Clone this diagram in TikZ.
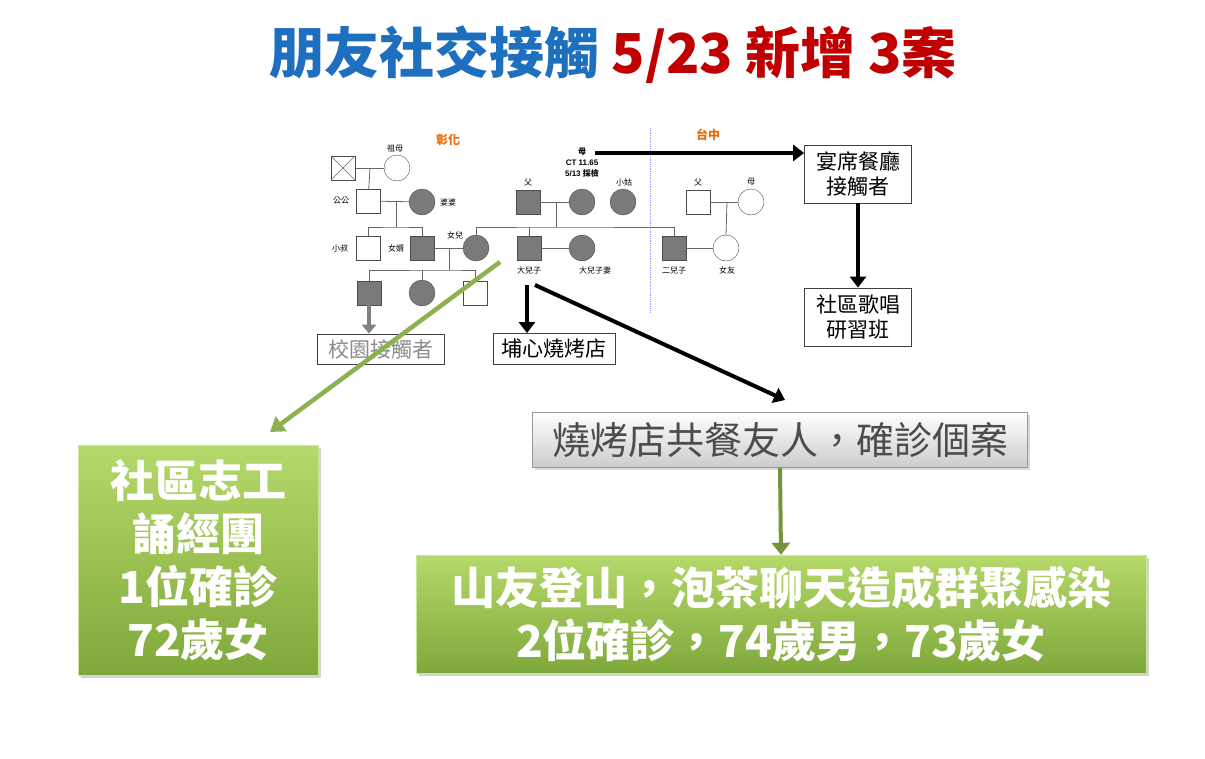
\documentclass[tikz,border=0pt]{standalone}
\usepackage{fontspec}
\setmainfont{Liberation Sans}
\newfontfamily\cjk{Noto Sans CJK TC}
\usetikzlibrary{arrows.meta,shadows}
\definecolor{tblue}{HTML}{1F6FBF}
\definecolor{tred}{HTML}{C00000}
\definecolor{orng}{HTML}{E46C0A}
\definecolor{pgray}{HTML}{7A7A7A}
\definecolor{gtop}{HTML}{B5D96A}
\definecolor{gbot}{HTML}{7FA83A}
\definecolor{garr}{HTML}{8DB050}
\definecolor{oarr}{HTML}{77933C}
\tikzset{
 x=1pt,y=-1pt,
 every node/.style={font=\cjk},
 mw/.style={draw=black!70,fill=white,minimum size=24pt,inner sep=0pt},
 mf/.style={mw,fill=pgray},
 fw/.style={circle,draw=black!70,fill=white,minimum size=26pt,inner sep=0pt},
 ff/.style={fw,fill=pgray},
 lbl/.style={font=\cjk\fontsize{8}{9}\selectfont,inner sep=0pt},
 ln/.style={draw=black!60,line width=0.8pt},
 bx/.style={draw=black!75,line width=0.8pt,fill=white,font=\cjk\fontsize{21}{25}\selectfont,align=center,inner sep=2pt},
 arr/.style={line width=4pt,-{Triangle[length=11pt,width=16pt]}},
 gbox/.style={top color=gtop,bottom color=gbot,draw=gtop!70!white,drop shadow={opacity=0.35},text=white,font=\cjk\bfseries\fontsize{44}{53}\selectfont,align=center}
}
\begin{document}
\begin{tikzpicture}
\useasboundingbox (0,0) rectangle (1205,758);
% title
\node (title) at (613,55) {\fontsize{55}{60}\selectfont\bfseries\textcolor{tblue}{朋友社交接觸} \textcolor{tred}{5/23 新增 3案}};
% region labels
\node[lbl,text=orng,font=\cjk\bfseries\fontsize{12}{14}\selectfont] (ch) at (448,140) {彰化};
\node[lbl,text=orng,font=\cjk\bfseries\fontsize{12}{14}\selectfont] (tc) at (708,135) {台中};
\coordinate (dtop) at (650,128); \coordinate (dbot) at (650,312);
\draw[blue!40,densely dotted,line width=0.8pt] (dtop) -- (dbot);
% generation 1
\node[mw] (gf) at (343,168) {};
\draw[black!60] (gf.north west)--(gf.south east) (gf.north east)--(gf.south west);
\node[fw] (gm) at (397,168) {};
\node[lbl] (gml) at (395,148) {祖母};
% generation 2
\node[mw] (gg) at (368,201) {}; \node[lbl] (ggl) at (341,201) {公公};
\node[ff] (pp) at (422,202) {}; \node[lbl] (ppl) at (448,202) {婆婆};
\node[mf] (fa) at (528,202) {}; \node[lbl] (fal) at (528,182) {父};
\node[ff] (mo) at (582,202) {};
\node[lbl,align=center,font=\bfseries\fontsize{8}{11}\selectfont] (mol) at (582,163) {{\cjk 母}\\CT 11.65\\5/13 {\cjk 採檢}};
\node[ff] (xg) at (623,202) {}; \node[lbl] (xgl) at (624,182) {小姑};
\node[mw] (tf) at (698,202) {}; \node[lbl] (tfl) at (698,182) {父};
\node[fw] (tm) at (751,202) {}; \node[lbl] (tml) at (751,182) {母};
% generation 3
\node[mw] (xs) at (368,248) {}; \node[lbl] (xsl) at (340,248) {小叔};
\node[mf] (nx) at (422,248) {}; \node[lbl] (nxl) at (396,248) {女婿};
\node[ff] (ne) at (476,248) {}; \node[lbl] (nel) at (455,235) {女兒};
\node[mf] (ds) at (529,248) {}; \node[lbl] (dsl) at (529,270) {大兒子};
\node[ff] (dw) at (582,248) {}; \node[lbl] (dwl) at (595,270) {大兒子妻};
\node[mf] (es) at (674,248) {}; \node[lbl] (esl) at (674,270) {二兒子};
\node[fw] (gfr) at (726,248) {}; \node[lbl] (gfl) at (727,270) {女友};
% generation 4
\node[mf] (c1) at (369,293) {};
\node[ff] (c2) at (422,293) {};
\node[mw] (c3) at (475,293) {};
% lines
\draw[ln] (gf)--(gm); \draw[ln] (370,168)--(gg);
\draw[ln] (gg)--(pp); \draw[ln] (396,202)--(396,227);
\draw[ln] (xs.north)|-(396,227)-|(nx.north);
\draw[ln] (nx)--(ne); \draw[ln] (449,248)--(449,270);
\draw[ln] (c1.north)|-(449,270)-|(c3.north); \draw[ln] (c2.north)--(422,270);
\draw[ln] (fa)--(mo); \draw[ln] (556,202)--(556,227);
\draw[ln] (ne.north)|-(556,227)-|(es.north); \draw[ln] (ds.north)--(529,227);
\draw[ln] (ds)--(dw); \draw[ln] (es)--(gfr);
\draw[ln] (tf)--(tm); \draw[ln] (727,202)--(gfr.north);
% boxes
\node[bx,text=black!45,minimum width=127pt,minimum height=30pt] (xy) at (381,349) {校園接觸者};
\node[bx,minimum width=122pt,minimum height=31pt] (bx1) at (554,349) {埔心燒烤店};
\node[bx,minimum width=107pt,minimum height=58pt] (ys) at (858,174) {宴席餐廳\\接觸者};
\node[bx,minimum width=107pt,minimum height=58pt] (sq) at (858,317) {社區歌唱\\研習班};
\node[draw=black!40,top color=white,bottom color=black!20,drop shadow={opacity=0.3},minimum width=495pt,minimum height=55pt,font=\cjk\fontsize{38}{42}\selectfont,text=black!70,inner sep=0pt] (gb) at (780,440) {燒烤店共餐友人，確診個案};
\node[gbox,minimum width=240pt,minimum height=230pt] (g1) at (198,560) {社區志工\\誦經團\\1位確診\\72歲女};
\node[gbox,minimum width=730pt,minimum height=118pt,inner sep=0pt] (g2) at (781,614) {山友登山，泡茶聊天造成群聚感染\\2位確診，74歲男，73歲女};
% arrows
\coordinate (ma) at (595,153);
\draw[arr] (ma) -- (ys.west|-ma);
\draw[arr] (ys.south) -- (sq.north);
\draw[line width=4pt,black!50,-{Triangle[length=9pt,width=14pt]}] (c1.south) -- (xy.north-|c1);
\coordinate (ds1) at (527,285); \coordinate (ds2) at (535,285);
\draw[arr] (ds1) -- (bx1.north-|ds1);
\coordinate (ge) at (785,400);
\draw[arr] (ds2) -- (ge);
\coordinate (gs) at (500,262); \coordinate (gend) at (270,432);
\draw[line width=4.5pt,garr,-{Triangle[length=14pt,width=18pt]}] (gs) -- (gend);
\draw[line width=4pt,oarr,-{Triangle[length=12pt,width=18pt]}] (gb.south) -- (g2.north);
\end{tikzpicture}
\end{document}
